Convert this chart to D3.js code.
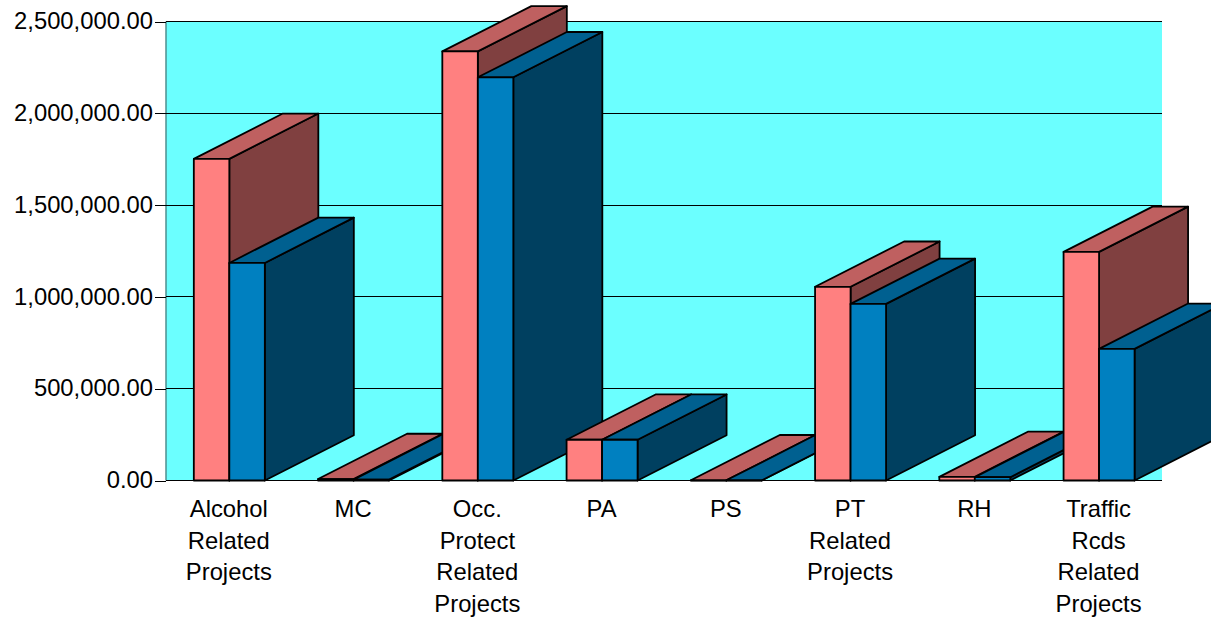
<!DOCTYPE html>
<html><head><meta charset="utf-8">
<script src="https://cdnjs.cloudflare.com/ajax/libs/d3/7.8.5/d3.min.js"></script>
<style>html,body{margin:0;background:#fff}svg{display:block}text{font-family:"Liberation Sans",Arial,sans-serif;fill:#000}</style>
</head><body><svg id="c" width="1211" height="621"></svg>
<script>
const categories=[["Alcohol","Related","Projects"],["MC"],["Occ.","Protect","Related","Projects"],["PA"],["PS"],["PT","Related","Projects"],["RH"],["Traffic","Rcds","Related","Projects"]];
const seriesA=[1752000,8000,2337000,222000,1000,1055000,20000,1245000];
const seriesB=[1185000,5000,2196000,222000,1000,962000,18000,717000];
const tickValues=[0,500000,1000000,1500000,2000000,2500000];
const colorsA={front:"#FF8080",top:"#BF6060",side:"#804040"};
const colorsB={front:"#0080C0",top:"#006090",side:"#004060"};
const L=166,R=1162,T=21.5,B=480.5,DX=89,DY=45.3,BW=35.5;
const svg=d3.select("#c");
const y=d3.scaleLinear().domain([0,2500000]).range([B,T]);
const x=d3.scaleBand().domain(d3.range(categories.length)).range([L+.5,R-1.5]);
svg.append("rect").attr("x",L).attr("y",T).attr("width",R-L).attr("height",B-T).attr("fill","#6BFFFF");
svg.append("line").attr("x1",L).attr("x2",L).attr("y1",T).attr("y2",B).attr("stroke","#4d8f8f").attr("stroke-width",1.5);
const ax=svg.append("g").attr("transform",`translate(${L},0)`).call(d3.axisLeft(y).tickValues(tickValues).tickSize(11).tickPadding(2).tickFormat(d3.format(",.2f")));
ax.select(".domain").remove();
ax.selectAll("line").attr("stroke","#000").attr("stroke-width",1).attr("shape-rendering","crispEdges");
ax.selectAll("text").attr("font-size",23.8).attr("dy","0.3em");
svg.append("g").selectAll("line").data(tickValues).join("line").attr("x1",L).attr("x2",R).attr("y1",d=>y(d)).attr("y2",d=>y(d)).attr("stroke","#000").attr("stroke-width",1).attr("shape-rendering","crispEdges");
const pts=a=>a.map(p=>p.join(",")).join(" ");
function bar(g,x0,v,c){
  const x1=x0+BW,t=y(v);
  const st={stroke:"#000","stroke-width":1.8,"stroke-linejoin":"round"};
  const add=(p,f)=>{const e=g.append("polygon").attr("points",pts(p)).attr("fill",f);for(const k in st)e.attr(k,st[k]);};
  add([[x1,B],[x1+DX,B-DY],[x1+DX,t-DY],[x1,t]],c.side);
  add([[x0,t],[x0+DX,t-DY],[x1+DX,t-DY],[x1,t]],c.top);
  add([[x0,t],[x1,t],[x1,B],[x0,B]],c.front);
}
categories.forEach((cat,i)=>{
  const g=svg.append("g"),mid=x(i)+x.bandwidth()/2+.7;
  bar(g,mid-BW,seriesA[i],colorsA);
  bar(g,mid,seriesB[i],colorsB);
  const t=svg.append("text").attr("text-anchor","middle").attr("font-size",23.8);
  t.selectAll("tspan").data(cat).join("tspan").attr("x",mid-.5).attr("y",(d,j)=>517+j*31.6).text(d=>d);
});
</script></body></html>
